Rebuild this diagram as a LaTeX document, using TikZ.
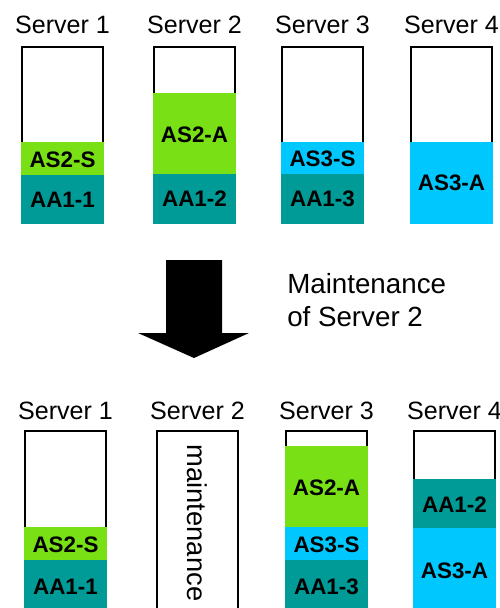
\documentclass[tikz,border=0pt]{standalone}
\usepackage{fontspec}
\setmainfont{Liberation Sans}
\definecolor{limeg}{RGB}{120,224,20}
\definecolor{tealc}{RGB}{0,155,150}
\definecolor{skyb}{RGB}{0,200,255}

\begin{document}
\begin{tikzpicture}[x=0.75pt,y=-0.75pt,
  box/.style={draw=black, line width=1.1pt, fill=white, inner sep=0pt, outer sep=0pt,
              anchor=north west, minimum width=60.75pt},
  hgt/.style={minimum height=#1*0.75pt},
  seg/.style={draw=#1, fill=#1, line width=1.1pt, inner sep=0pt, outer sep=0pt,
              anchor=north west, minimum width=60.75pt,
              font=\fontsize{16.8}{18}\selectfont\bfseries},
  title/.style={anchor=base, font=\fontsize{18.8}{20}\selectfont},
]
\useasboundingbox (0,0) rectangle (500,608);
\clip (0,0) rectangle (500,608);

% ---- before maintenance ----
\node[box, hgt=176] (b1) at (22,47) {};
\node[seg=limeg, hgt=33] (b1s) at (22,143) {AS2-S};
\node[seg=tealc, hgt=47] (b1a) at (22,176) {AA1-1};
\node[title] (t1) at (62.5,33) {Server 1};

\node[box, hgt=176] (b2) at (154,47) {};
\node[seg=limeg, hgt=81] (b2s) at (154,94) {AS2-A};
\node[seg=tealc, hgt=48] (b2a) at (154,175) {AA1-2};
\node[title] (t2) at (194.5,33) {Server 2};

\node[box, hgt=176] (b3) at (282,47) {};
\node[seg=skyb, hgt=32] (b3s) at (282,143) {AS3-S};
\node[seg=tealc, hgt=48] (b3a) at (282,175) {AA1-3};
\node[title] (t3) at (322.5,33) {Server 3};

\node[box, hgt=176] (b4) at (411,47) {};
\node[seg=skyb, hgt=80] (b4s) at (411,143) {AS3-A};
\node[title] (t4) at (451.5,33) {Server 4};

% ---- transition arrow ----
\fill[black] (166,260) -- (222,260) -- (222,333) -- (249,333) -- (194,358)
  -- (138,333) -- (166,333) -- cycle;
\node[anchor=base west, align=left, inner sep=0pt,
      font=\fontsize{20.8}{24.75}\selectfont] (note) at (287,326)
      {Maintenance\\of Server 2};

% ---- after maintenance ----
\node[box, hgt=181] (c1) at (25,431) {};
\node[seg=limeg, hgt=33] (c1s) at (25,528) {AS2-S};
\node[seg=tealc, hgt=51] (c1a) at (25,561) {AA1-1};
\node[title] (u1) at (65.5,419) {Server 1};

\node[box, hgt=181] (c2) at (157,431) {};
\node[rotate=-90, inner sep=0pt, font=\fontsize{20.5}{22}\selectfont] (m2) at (197.5,523) {maintenance};
\node[title] (u2) at (197.5,419) {Server 2};

\node[box, hgt=181] (c3) at (286,431) {};
\node[seg=limeg, hgt=81] (c3s) at (286,447) {AS2-A};
\node[seg=skyb, hgt=33] (c3b) at (286,528) {AS3-S};
\node[seg=tealc, hgt=51] (c3a) at (286,561) {AA1-3};
\node[title] (u3) at (326.5,419) {Server 3};

\node[box, hgt=181] (c4) at (414,431) {};
\node[seg=tealc, hgt=49] (c4a) at (414,480) {AA1-2};
\node[seg=skyb, hgt=83] (c4b) at (414,529) {AS3-A};
\node[title] (u4) at (454.5,419) {Server 4};
\end{tikzpicture}
\end{document}
